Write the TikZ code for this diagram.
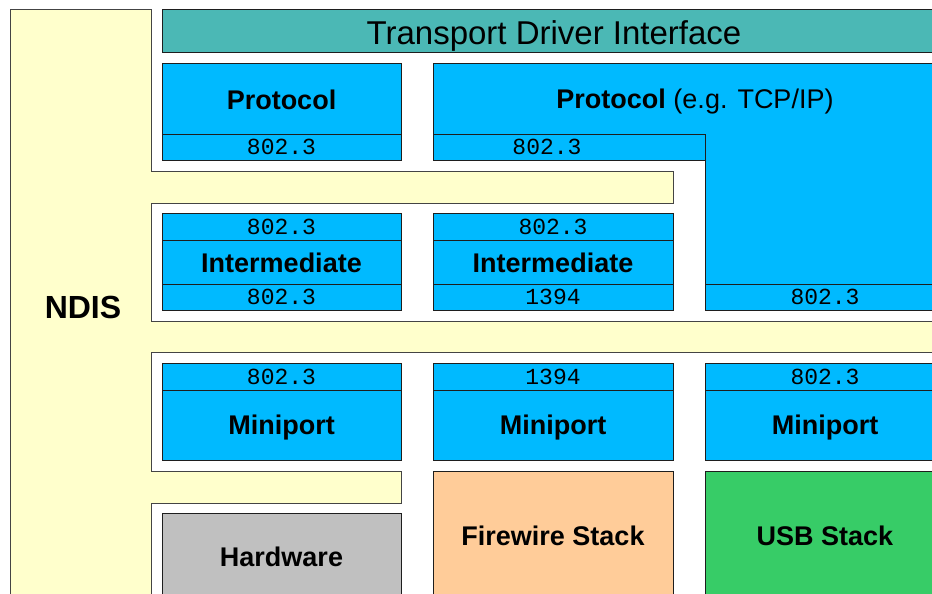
\documentclass[tikz,border=0pt]{standalone}
\usepackage{fontspec}
\setmainfont{Liberation Sans}
\newfontfamily\codefam{Liberation Mono}
\newcommand\lblfont{\fontsize{27}{30}\selectfont\bfseries}
\newcommand\plainfont{\fontsize{27}{30}\selectfont\mdseries}
\newcommand\ttlfont{\fontsize{33}{36}\selectfont}
\newcommand\ndisfont{\fontsize{32}{36}\selectfont\bfseries}
\newcommand\codefont{\codefam\fontsize{23}{26}\selectfont}
\definecolor{ndisyellow}{HTML}{FFFFCC}
\definecolor{ndisline}{HTML}{444444}
\definecolor{boxline}{HTML}{1E1E1E}
\definecolor{drvblue}{HTML}{00BAFF}
\definecolor{tditeal}{HTML}{4BB8B5}
\definecolor{fwpeach}{HTML}{FFCC99}
\definecolor{usbgreen}{HTML}{37CC67}
\definecolor{hwgray}{HTML}{C0C0C0}
\tikzset{
  cell/.style={draw=boxline, line width=1pt, inner sep=0pt, outer sep=0pt, fill=drvblue, text depth=0pt},
  codecell/.style={cell, font=\codefont},
  namecell/.style={cell, font=\lblfont},
  stackbox/.style={draw=boxline, line width=1pt, inner sep=0pt, outer sep=0pt, font=\lblfont, text depth=0pt},
  freetext/.style={inner sep=0pt, text depth=0pt},
}
\begin{document}
\begin{tikzpicture}[x=1pt,y=-1pt]
\useasboundingbox (0,0) rectangle (932,594);
\clip (0,0) rectangle (932,594);

% NDIS layer: yellow comb reaching between the driver rows
\draw[fill=ndisyellow, draw=ndisline, line width=1pt]
  (10,10) -- (151,10) -- (151,171) -- (673,171) -- (673,203) -- (151,203)
  -- (151,321) -- (950,321) -- (950,352) -- (151,352)
  -- (151,471) -- (401,471) -- (401,503) -- (151,503)
  -- (151,610) -- (10,610) -- cycle;
\node[freetext, font=\ndisfont] (ndis) at (83,307) {NDIS};

% Transport Driver Interface
\node[draw=boxline, line width=1pt, fill=tditeal, minimum width=783, minimum height=43,
      font=\ttlfont, inner sep=0pt, text depth=0pt] (tdi) at (553.5,31.5) {};
\node[freetext, font=\ttlfont] (tditext) at (554,32.5) {Transport Driver Interface};

% Protocol (left column)
\node[namecell, minimum width=239, minimum height=70] (proto) at (281.5,99) {};
\node[freetext, font=\lblfont] (prototext) at (281.5,100) {Protocol};
\node[codecell, minimum width=239, minimum height=26] (protoA) at (281.5,147) {802.3};

% Protocol (e.g. TCP/IP), L-shaped
\draw[fill=drvblue, draw=boxline, line width=1pt]
  (433,64) -- (950,64) -- (950,310) -- (705,310) -- (705,160) -- (433,160) -- cycle;
\draw[draw=boxline, line width=1pt] (433,134) -- (705,134) -- (705,160);
\draw[draw=boxline, line width=1pt] (705,284) -- (950,284);
\node[freetext] (tcpip) at (695,99) {\lblfont Protocol \plainfont(e.g. TCP/IP)};
\node[freetext, font=\codefont] (tcpA) at (547,147) {802.3};
\node[freetext, font=\codefont] (tcpB) at (825,297) {802.3};

% Intermediate drivers
\node[codecell, minimum width=239, minimum height=27] (imA1) at (281.5,226.5) {802.3};
\node[namecell, minimum width=239, minimum height=44] (imA) at (281.5,262) {};
\node[freetext, font=\lblfont] (imAtext) at (281.5,263) {Intermediate};
\node[codecell, minimum width=239, minimum height=26] (imA2) at (281.5,297) {802.3};

\node[codecell, minimum width=240, minimum height=27] (imB1) at (553,226.5) {802.3};
\node[namecell, minimum width=240, minimum height=44] (imB) at (553,262) {};
\node[freetext, font=\lblfont] (imBtext) at (553,263) {Intermediate};
\node[codecell, minimum width=240, minimum height=26] (imB2) at (553,297) {1394};

% Miniport drivers
\node[codecell, minimum width=239, minimum height=27] (mpA1) at (281.5,376.5) {802.3};
\node[namecell, minimum width=239, minimum height=70] (mpA) at (281.5,425) {Miniport};

\node[codecell, minimum width=240, minimum height=27] (mpB1) at (553,376.5) {1394};
\node[namecell, minimum width=240, minimum height=70] (mpB) at (553,425) {Miniport};

\node[codecell, minimum width=240, minimum height=27] (mpC1) at (825,376.5) {802.3};
\node[namecell, minimum width=240, minimum height=70] (mpC) at (825,425) {Miniport};

% Lower stacks
\node[stackbox, fill=hwgray, minimum width=239, minimum height=87] (hw) at (281.5,556.5) {Hardware};
\node[stackbox, fill=fwpeach, minimum width=240, minimum height=129] (fw) at (553,535.5) {Firewire Stack};
\node[stackbox, fill=usbgreen, minimum width=240, minimum height=129] (usb) at (825,535.5) {USB Stack};
\end{tikzpicture}
\end{document}
